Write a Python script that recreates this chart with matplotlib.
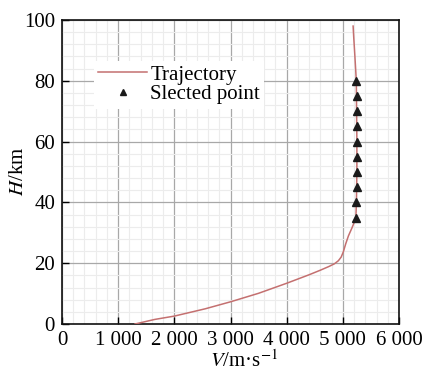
import matplotlib
matplotlib.use("Agg")
import matplotlib.pyplot as plt
from matplotlib.ticker import MultipleLocator, FuncFormatter

# Trajectory (V in m/s, H in km)
traj_V = [1300, 1650, 2000, 2550, 3000, 3500, 4000, 4400, 4600, 4750, 4850,
          4920, 4970, 5010, 5050, 5100, 5160, 5205, 5232, 5242, 5250, 5250,
          5245, 5240, 5215, 5195, 5183]
traj_H = [0, 1.5, 2.6, 5.0, 7.3, 10.1, 13.4, 16.2, 17.7, 18.9, 19.8,
          20.8, 22.0, 23.8, 26.3, 29.0, 31.5, 33.5, 35, 40, 50, 60,
          70, 80, 88, 94, 98]

# Selected points
sel_H = [35, 40, 45, 50, 55, 60, 65, 70, 75, 80]
sel_V = [5232, 5242, 5248, 5250, 5250, 5250, 5250, 5248, 5245, 5240]

x_ticks = [0, 1000, 2000, 3000, 4000, 5000, 6000]
y_ticks = [0, 20, 40, 60, 80, 100]

plt.rcParams['font.family'] = ['Liberation Serif', 'DejaVu Serif']
plt.rcParams['mathtext.fontset'] = 'stix'

fig = plt.figure(figsize=(4.24, 3.71), dpi=100)
ax = fig.add_axes([62/424, 47/371, 337/424, 304/371])

ax.plot(traj_V, traj_H, color='#c47070', lw=1.1, label='Trajectory', zorder=3)
ax.plot(sel_V, sel_H, linestyle='none', marker='^', color='#1a1a1a', ms=5.5,
        label='Slected point', zorder=4)

ax.set_xlim(0, 6000)
ax.set_ylim(0, 100)
ax.set_xticks(x_ticks)
ax.set_yticks(y_ticks)
ax.xaxis.set_minor_locator(MultipleLocator(200))
ax.yaxis.set_minor_locator(MultipleLocator(4))
ax.xaxis.set_major_formatter(FuncFormatter(
    lambda v, p: '{:,}'.format(int(v)).replace(',', ' ')))

ax.grid(which='major', color='#a8a8a8', lw=0.9)
ax.grid(which='minor', color='#ececec', lw=0.8)
ax.set_axisbelow(True)

ax.tick_params(which='major', direction='in', length=5, width=1.0,
               labelsize=15, pad=5)
ax.tick_params(which='minor', length=0)
for s in ax.spines.values():
    s.set_linewidth(1.2)
    s.set_color('#111111')

ax.set_xlabel(r'$\mathit{V}$/m·s$^{-1}$', fontsize=15)
ax.set_ylabel(r'$\mathit{H}$/km', fontsize=15)
ax.xaxis.set_label_coords((244 - 62) / 337, (324 - 350) / 304)
ax.yaxis.set_label_coords((28 - 62) / 337, (324 - 171) / 304)

leg = ax.legend(loc='upper left', bbox_to_anchor=(0.095, 0.865), fontsize=15,
                frameon=True, fancybox=False, framealpha=1, edgecolor='none',
                handlelength=2.35, handletextpad=0.15, labelspacing=0.0,
                borderpad=0.2, borderaxespad=0, markerscale=0.75)

fig.savefig('out.png', dpi=100)
